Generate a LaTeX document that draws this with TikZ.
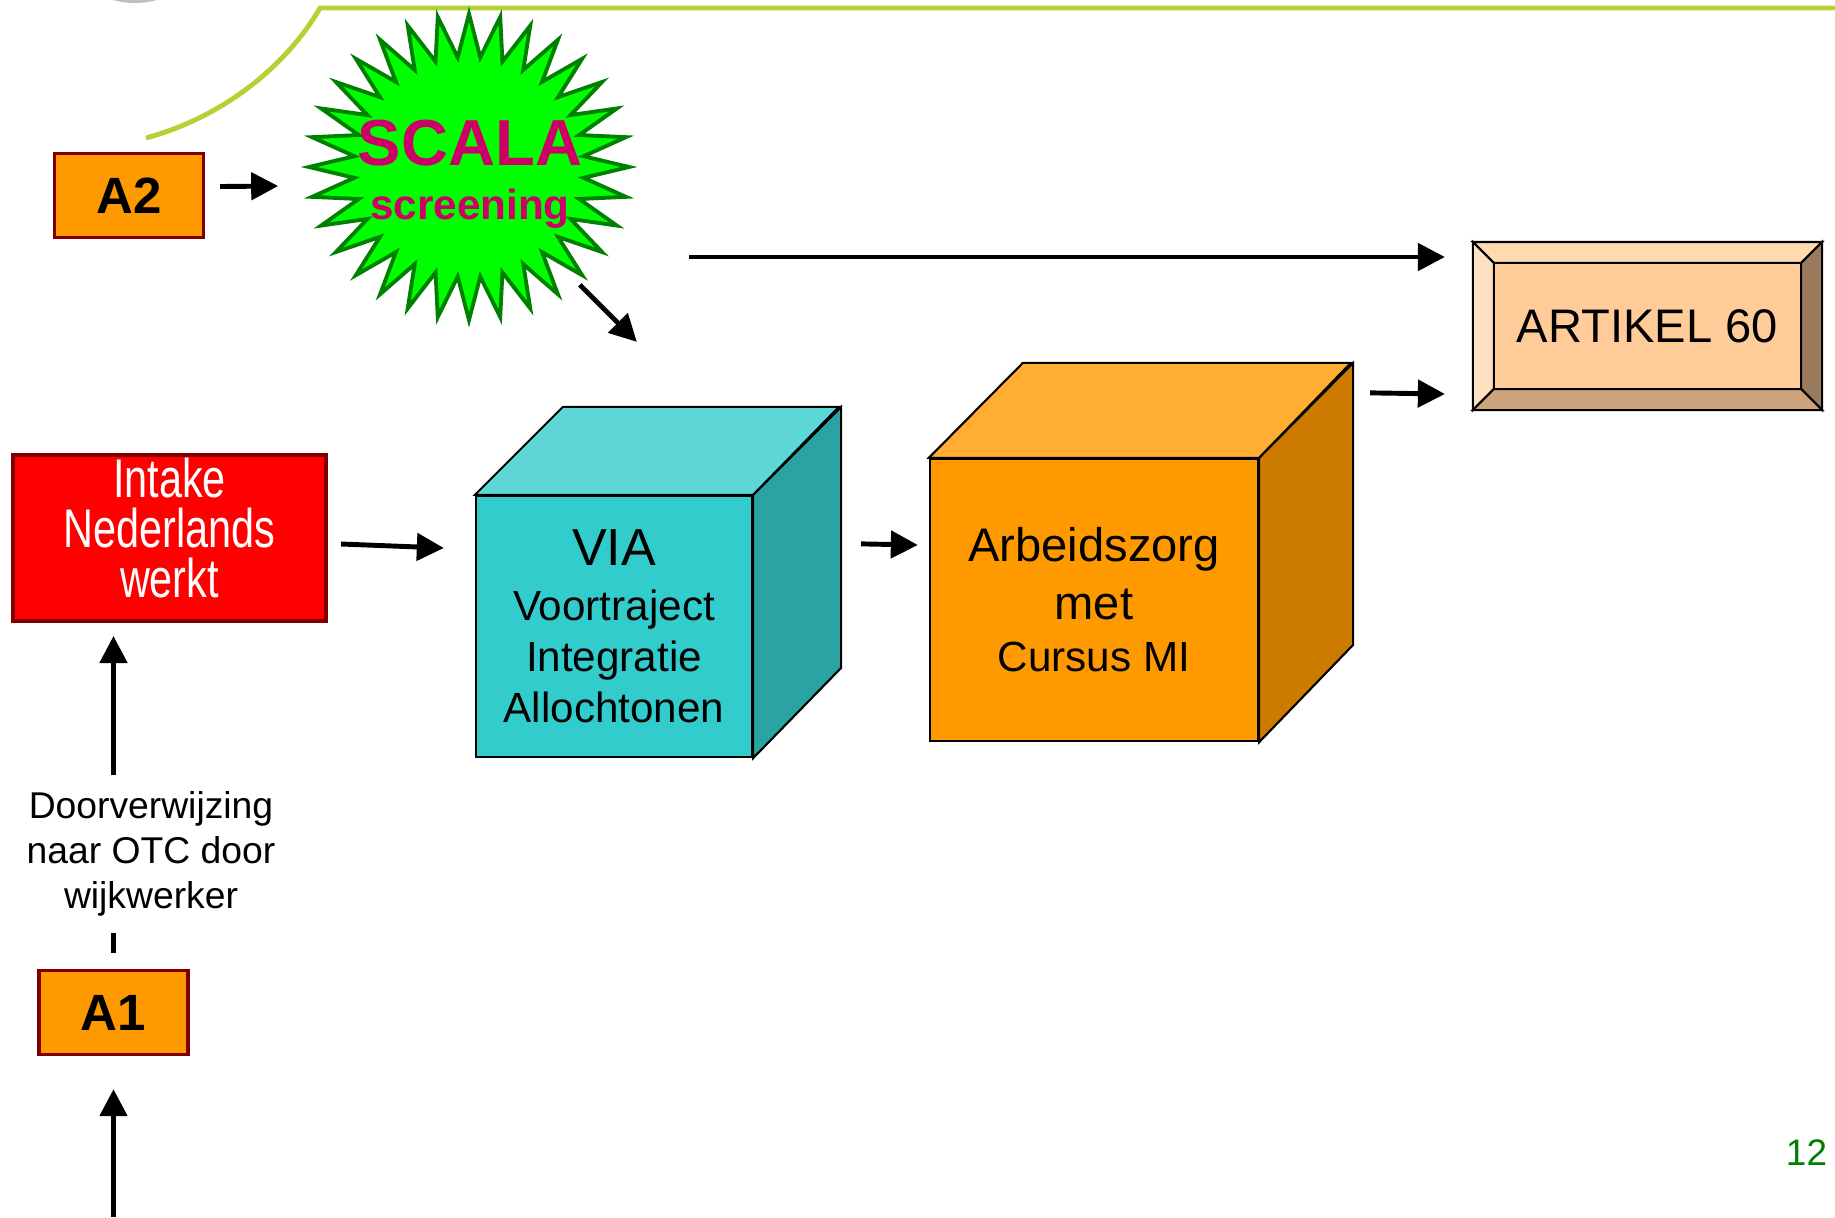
\documentclass[tikz,border=0pt]{standalone}
\usepackage{fontspec}
\setmainfont{Liberation Sans}
\newfontfamily\intakefont[FakeStretch=0.76]{Liberation Sans}
\usetikzlibrary{arrows.meta,calc}
\definecolor{boxorange}{HTML}{FF9900}
\definecolor{boxrim}{HTML}{800000}
\definecolor{limeline}{HTML}{B2D235}
\definecolor{scalapink}{HTML}{CC0066}
\definecolor{starfill}{HTML}{00FF00}
\definecolor{starrim}{HTML}{008000}
\definecolor{viafront}{HTML}{33CCCC}
\definecolor{viatop}{HTML}{5CD6D6}
\definecolor{viaside}{HTML}{29A3A3}
\definecolor{azfront}{HTML}{FF9900}
\definecolor{aztop}{HTML}{FFAD33}
\definecolor{azside}{HTML}{CC7A00}
\definecolor{artface}{HTML}{FFCC99}
\definecolor{arttop}{HTML}{FFD9AF}
\definecolor{artleft}{HTML}{FFE0C0}
\definecolor{artright}{HTML}{997A5C}
\definecolor{artbottom}{HTML}{CCA37A}
\tikzset{
  arr/.style={line width=1.4pt,-{Triangle[length=0.27cm,width=0.27cm]}},
  abox/.style={draw=boxrim,line width=0.9pt,fill=boxorange,minimum width=1.49cm,
    minimum height=0.84cm,inner sep=0pt,font=\bfseries\fontsize{14.5}{17}\selectfont},
  face/.style={draw=black,line width=0.6pt},
}

\begin{document}
\begin{tikzpicture}[x=0.01cm,y=-0.01cm]
\useasboundingbox (0,0) rectangle (1835,1217);
% slide decoration
\fill[black!25] (135,-20) ellipse [x radius=0.44cm, y radius=0.23cm];
\draw[limeline,line width=1.4pt] (146,138) .. controls (230,115) and (290,60) .. (320,8) -- (1835,8);
% A2 and screening star
\node[abox] (A2) at (129,195.5) {A2};
\node[inner sep=0pt, minimum width=3.34cm, minimum height=3.2cm] (star) at (469,167) {};
\filldraw[fill=starfill, draw=starrim, line width=1.1pt]
  plot[domain=0:64, samples=65, variable=\k]
  ({469+160*(0.86+0.14*cos(\k*180))*cos(90+\k*5.625)},
   {167-153*(0.86+0.14*cos(\k*180))*sin(90+\k*5.625)}) -- cycle;
\node[text=scalapink, font=\bfseries\fontsize{12}{15.4}\selectfont, align=center, inner sep=0pt]
  (scala) at (470,174) {{\fontsize{18.5}{18.5}\selectfont SCALA}\\screening};
% intake
\node[draw=boxrim, line width=1.1pt, fill=red, minimum width=3.13cm, minimum height=1.66cm,
  inner sep=0pt, text=white, align=center, text depth=6pt,
  font=\intakefont\fontsize{15.5}{14.2}\selectfont]
  (Intake) at (169.5,538) {Intake\\Nederlands\\werkt};
% VIA block
\node[face, fill=viafront, minimum width=2.76cm, minimum height=2.61cm, align=center,
  font=\fontsize{12}{14.5}\selectfont] (via) at (614,626.5)
  {{\fontsize{14.8}{15}\selectfont VIA}\\[1.1pt]Voortraject\\Integratie\\Allochtonen};
\filldraw[face, fill=viatop] (via.north west) -- ++(88,-88) -- ++(276,0) -- (via.north east) -- cycle;
\filldraw[face, fill=viaside] (via.north east) -- ++(88,-88) -- ++(0,261) -- (via.south east) -- cycle;
% Arbeidszorg block
\node[face, fill=azfront, minimum width=3.28cm, minimum height=2.82cm, align=center,
  font=\fontsize{13.4}{16.5}\selectfont] (az) at (1094,600)
  {Arbeidszorg\\met\\[-1.7pt]{\fontsize{12}{14.8}\selectfont Cursus MI}};
\filldraw[face, fill=aztop] (az.north west) -- ++(94,-95) -- ++(328,0) -- (az.north east) -- cycle;
\filldraw[face, fill=azside] (az.north east) -- ++(94,-95) -- ++(0,282) -- (az.south east) -- cycle;
% artikel 60 button
\node[inner sep=0pt, outer sep=0pt, minimum width=3.49cm, minimum height=1.68cm] (art) at (1647.5,326) {};
\filldraw[face, fill=arttop] (art.north west) -- (art.north east) -- ++(-21,21)
  -- ([shift={(21,21)}]art.north west) -- cycle;
\filldraw[face, fill=artleft] (art.north west) -- ++(21,21)
  -- ([shift={(21,-21)}]art.south west) -- (art.south west) -- cycle;
\filldraw[face, fill=artright] (art.north east) -- ++(-21,21)
  -- ([shift={(-21,-21)}]art.south east) -- (art.south east) -- cycle;
\filldraw[face, fill=artbottom] (art.south west) -- ++(21,-21)
  -- ([shift={(-21,-21)}]art.south east) -- (art.south east) -- cycle;
\filldraw[face, fill=artface] ([shift={(21,21)}]art.north west) rectangle ([shift={(-21,-21)}]art.south east);
\node[font=\fontsize{13.4}{16}\selectfont] (art text) at (art.center) {ARTIKEL 60};
% A1 and referral
\node[abox] (A1) at (113.5,1012.5) {A1};
\node[inner xsep=0pt, inner ysep=0.16cm, align=center, font=\fontsize{10.6}{12.7}\selectfont]
  (door) at (151,854) {Doorverwijzing\\naar OTC door\\wijkwerker};
\coordinate (entry) at (113.5,1217);
% arrows
\draw[arr] ([shift={(15,-9)}]A2.east) -- ([shift={(-23,19)}]star.west);
\draw[arr] ([shift={(-57,-43)}]star.south east) -- ([shift={(162,-153)}]via.north west);
\draw[arr] ([shift={(52,90)}]star.east) -- ([shift={(-28,-69)}]art.west);
\draw[arr] ([shift={(13,6)}]Intake.east) -- ([shift={(-31,-78.5)}]via.west);
\draw[arr] ([shift={(108,49)}]via.north east) -- ([shift={(-11,-55)}]az.west);
\draw[arr] ([shift={(111,-65)}]az.north east) -- ([shift={(-28,68)}]art.west);
\draw[line width=1.4pt, shorten <=0.16cm] (A1.north) -- (A1.north |- door.south);
\draw[arr, shorten >=0.13cm] (A1.north |- door.north) -- (A1.north |- Intake.south);
\draw[arr, shorten >=0.33cm] (entry) -- (A1.south);
% page number
\node[text=starrim, font=\fontsize{10.5}{12}\selectfont] (page) at (1806.5,1152.5) {12};
\end{tikzpicture}
\end{document}
